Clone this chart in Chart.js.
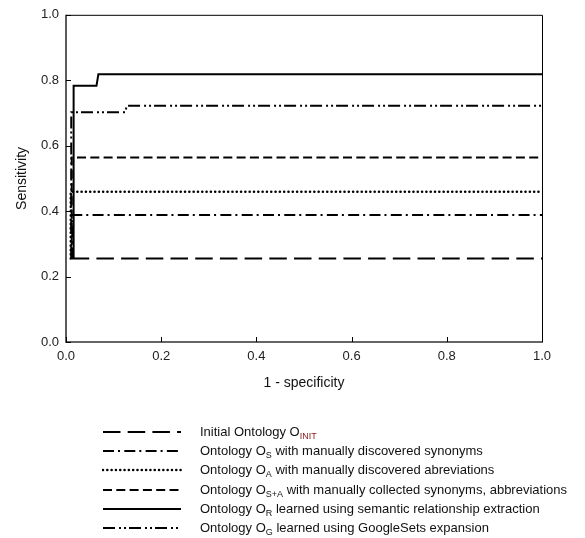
<!DOCTYPE html>
<html>
<head>
<meta charset="utf-8">
<script src="https://cdn.jsdelivr.net/npm/chart.js@4.4.1/dist/chart.umd.min.js"></script>
<style>
  body { margin: 0; background: #fff; }
  #wrap { position: relative; width: 585px; height: 538px; font-family: "Liberation Sans", Arial, sans-serif; color: #111; }
  #legend { position: absolute; left: 0; top: 0; width: 585px; height: 538px; pointer-events: none; }
  .row { position: absolute; left: 0; height: 20px; width: 585px; }
  .row svg { position: absolute; left: 102px; top: 0; }
  .row span.txt { position: absolute; left: 200px; top: 0; line-height: 20px; font-size: 13px; white-space: nowrap; }
  .row sub { font-size: 9px; vertical-align: -3px; line-height: 0; }
</style>
</head>
<body>
<div id="wrap">
  <canvas id="grafica" width="585" height="400"></canvas>
  <div id="legend"></div>
</div>
<script>
// series labels (subscripts kept apart for the legend)
const nombres = ["Initial Ontology O", "Ontology O", "Ontology O", "Ontology O", "Ontology O", "Ontology O"]
const subindices = ["INIT", "S", "A", "S+A", "R", "G"]
const sufijos = ["", " with manually discovered synonyms", " with manually discovered abreviations",
  " with manually collected synonyms, abbreviations", " learned using semantic relationship extraction",
  " learned using GoogleSets expansion"]

// ROC steps
const initX = [0.012, 1]
const initY = [0.255, 0.255]
const synX = [0.013, 0.013, 1]
const synY = [0.255, 0.388, 0.388]
const abrX = [0.010, 0.010, 1]
const abrY = [0.255, 0.459, 0.459]
const synAbrX = [0.012, 0.012, 1]
const synAbrY = [0.255, 0.564, 0.564]
const relX = [0.016, 0.016, 0.064, 0.068, 1]
const relY = [0.255, 0.783, 0.783, 0.818, 0.818]
const gsX = [0.011, 0.011, 0.124, 0.128, 1]
const gsY = [0.255, 0.702, 0.702, 0.722, 0.722]

const ticks = [0, 0.2, 0.4, 0.6, 0.8, 1.0]

const xs = [initX, synX, abrX, synAbrX, relX, gsX]
const ys = [initY, synY, abrY, synAbrY, relY, gsY]
const guiones = [[17.5, 7.2], [11, 4, 2, 4.3], [0.01, 4.3], [9, 4.3], [], [12, 4, 2, 3, 2, 3]]
const remates = ["butt", "butt", "round", "butt", "butt", "butt"]

const datasets = xs.map((serie, i) => {
  return {
    label: nombres[i] + subindices[i] + sufijos[i],
    data: serie.map((x, j) => ({ x: x, y: ys[i][j] })),
    borderColor: "#000",
    borderWidth: i === 2 ? 2.6 : 2,
    borderDash: guiones[i],
    borderCapStyle: remates[i],
    pointRadius: 0,
    fill: false,
    tension: 0
  }
})

// frame with inward tick marks
const marco = {
  id: "marco",
  afterDraw(chart) {
    const { ctx, chartArea: a, scales } = chart
    ctx.save()
    ctx.strokeStyle = "#000"
    ctx.lineWidth = 1
    ctx.beginPath()
    ctx.moveTo(a.left, a.top + 0.5)
    ctx.lineTo(a.right + 0.5, a.top + 0.5)
    ctx.lineTo(a.right + 0.5, a.bottom)
    ctx.stroke()
    ctx.strokeStyle = "#333"
    ctx.lineWidth = 1.6
    ctx.beginPath()
    ctx.moveTo(a.left, a.top)
    ctx.lineTo(a.left, a.bottom)
    ctx.lineTo(a.right + 1, a.bottom)
    ctx.stroke()
    ctx.lineWidth = 1
    ctx.strokeStyle = "#000"
    ctx.beginPath()
    ticks.forEach(t => {
      const px = Math.round(scales.x.getPixelForValue(t)) + 0.5
      ctx.moveTo(px, a.bottom)
      ctx.lineTo(px, a.bottom - 5)
      const py = Math.round(scales.y.getPixelForValue(t)) + 0.5
      ctx.moveTo(a.left, py)
      ctx.lineTo(a.left + 5, py)
    })
    ctx.stroke()
    ctx.restore()
  }
}

const fuente = "'Liberation Sans', Arial, sans-serif"

new Chart(document.getElementById("grafica").getContext("2d"), {
  type: "line",
  data: { datasets: datasets },
  options: {
    responsive: false,
    animation: false,
    layout: { padding: { top: 9, right: 43, left: 0, bottom: 0 } },
    plugins: { legend: { display: false }, tooltip: { enabled: false } },
    scales: {
      x: {
        type: "linear", min: 0, max: 1,
        afterFit: s => { s.height = 58 },
        afterBuildTicks: s => { s.ticks = ticks.map(v => ({ value: v })) },
        grid: { display: false, drawTicks: false },
        border: { display: false },
        ticks: { padding: 7, color: "#222", font: { family: fuente, size: 13 }, callback: v => v.toFixed(1) },
        title: { display: true, text: "1 - specificity", color: "#111", font: { family: fuente, size: 14 }, padding: { top: 0, bottom: 8.6 } }
      },
      y: {
        type: "linear", min: 0, max: 1,
        afterFit: s => { s.width = 66 },
        afterBuildTicks: s => { s.ticks = ticks.map(v => ({ value: v })) },
        grid: { display: false, drawTicks: false },
        border: { display: false },
        ticks: { padding: 7, color: "#222", font: { family: fuente, size: 13 }, callback: v => v.toFixed(1) },
        title: { display: true, text: "Sensitivity", color: "#111", font: { family: fuente, size: 14 }, padding: { top: 13.6, bottom: 0 } }
      }
    }
  },
  plugins: [marco]
})

// legend below the chart
const leyenda = document.getElementById("legend")
const filas = [432, 451.2, 470.4, 489.6, 508.8, 528]
nombres.forEach((n, i) => {
  const fila = document.createElement("div")
  fila.className = "row"
  fila.style.top = (filas[i] - 10) + "px"
  const dash = guiones[i].length ? guiones[i].join(" ") : "none"
  const colorSub = i === 0 ? "#8b2020" : "#111"
  const ancho = i === 2 ? 2.6 : 2
  fila.innerHTML = `<svg width="80" height="20"><line x1="1" y1="10" x2="79" y2="10" stroke="#000" stroke-width="${ancho}" stroke-linecap="${remates[i]}" stroke-dasharray="${dash}"/></svg>
    <span class="txt">${n}<sub style="color:${colorSub}">${subindices[i]}</sub>${sufijos[i]}</span>`
  leyenda.appendChild(fila)
})
</script>
</body>
</html>
